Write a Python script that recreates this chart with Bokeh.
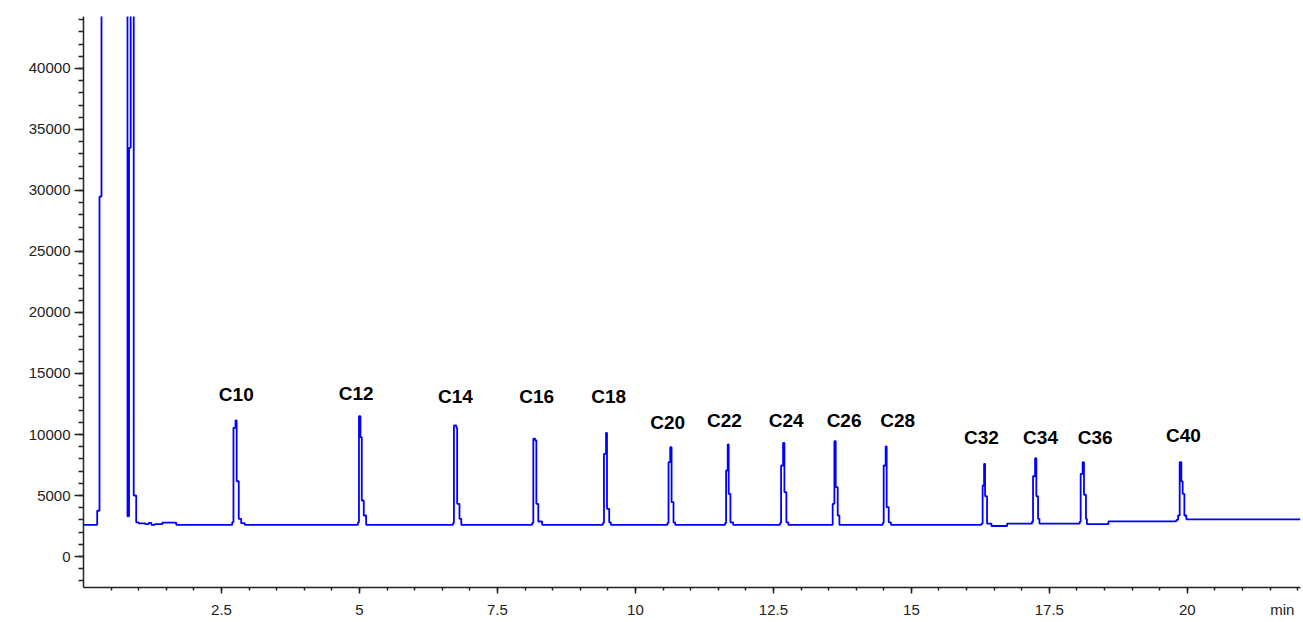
from bokeh.plotting import figure
from bokeh.models import FixedTicker, LinearAxis
from bokeh.core.properties import value
from bokeh.embed import file_html
from bokeh.resources import INLINE

# ---------------- data ----------------
# solvent front (off-scale values shown as 60000)
solvent_t = [0.0, 0.248, 0.29, 0.326, 0.797, 0.825, 0.855, 0.91, 0.955,
             1.00, 1.12, 1.18, 1.23, 1.29, 1.43, 1.68]
solvent_v = [2600, 3750, 29500, 60000, 3300, 33500, 60000, 5000, 2800,
             2720, 2650, 2750, 2600, 2650, 2780, 2600]

# baseline level changes late in the run
baseline_t = [16.735, 18.57, 22.05]
baseline_v = [2700, 2880, 3050]

peak_names = ["C10", "C12", "C14", "C16", "C18", "C20", "C22", "C24",
              "C26", "C28", "C32", "C34", "C36", "C40"]
peak_t = [
    [2.694, 2.717, 2.754, 2.775, 2.813, 2.857, 2.922],
    [4.973, 4.991, 5.018, 5.042, 5.078, 5.121],
    [6.695, 6.712, 6.755, 6.770, 6.812, 6.845],
    [8.13, 8.15, 8.185, 8.205, 8.24, 8.31],
    [9.41, 9.43, 9.467, 9.485, 9.525, 9.555],
    [10.58, 10.60, 10.63, 10.655, 10.69, 10.72],
    [11.625, 11.643, 11.672, 11.690, 11.721, 11.77],
    [12.62, 12.639, 12.675, 12.699, 12.735, 12.77],
    [13.574, 13.605, 13.629, 13.665, 13.696],
    [14.48, 14.498, 14.534, 14.552, 14.589, 14.63],
    [16.27, 16.291, 16.317, 16.335, 16.371, 16.45],
    [17.185, 17.204, 17.241, 17.264, 17.295, 17.32],
    [18.05, 18.067, 18.103, 18.127, 18.163, 18.18],
    [19.80, 19.832, 19.861, 19.891, 19.915, 19.946, 19.982],
]
peak_v = [
    [2800, 10550, 11150, 6170, 3090, 2730, 2600],
    [2800, 11500, 9780, 4590, 3360, 2600],
    [2750, 10740, 10550, 4320, 3090, 2600],
    [2750, 9650, 9510, 4320, 2870, 2600],
    [2750, 8420, 10140, 3910, 2800, 2600],
    [2750, 7730, 8960, 4450, 2800, 2600],
    [2750, 7050, 9180, 5140, 2800, 2600],
    [2750, 7460, 9320, 5270, 2800, 2600],
    [4320, 9450, 5680, 3360, 2600],
    [2750, 7460, 9020, 4040, 2800, 2600],
    [2700, 5820, 7600, 4940, 2700, 2500],
    [2850, 6580, 8060, 4940, 3090, 2700],
    [2850, 6780, 7730, 5060, 3090, 2650],
    [3000, 3360, 7730, 6150, 5140, 3360, 3050],
]

label_x = [2.768, 4.94, 6.74, 8.21, 9.516, 10.585, 11.612, 12.73,
           13.78, 14.75, 16.27, 17.34, 18.33, 19.93]
label_y = [13300, 13360, 13090, 13090, 13150, 10970, 11150, 11150,
           11150, 11150, 9730, 9730, 9730, 9890]

x_tick_values = [2.5, 5, 7.5, 10, 12.5, 15, 17.5, 20]
x_tick_labels = ["2.5", "5", "7.5", "10", "12.5", "15", "17.5", "20"]
x_unit_pos = 21.72
x_unit_label = "min"
y_tick_values = [0, 5000, 10000, 15000, 20000, 25000, 30000, 35000, 40000]

# ---------------- build trace ----------------
pts = list(zip(solvent_t, solvent_v)) + list(zip(baseline_t, baseline_v))
for pt, pv in zip(peak_t, peak_v):
    pts += list(zip(pt, pv))
pts.sort()
trace_t = [a for a, b in pts]
trace_v = [b for a, b in pts]

# ---------------- figure ----------------
p = figure(frame_width=1217, frame_height=571,
           x_range=(0, 22.05), y_range=(-2540, 44260),
           output_backend="svg", toolbar_location=None,
           min_border_left=83, min_border_right=3,
           min_border_top=16, min_border_bottom=33)
p.outline_line_color = None
p.xgrid.visible = False
p.ygrid.visible = False
p.background_fill_color = "white"
p.border_fill_color = "white"

p.step(trace_t, trace_v, mode="after", line_color="#0000ff", line_width=1.8)

p.text(x=label_x, y=label_y, text=peak_names,
       text_font=value("Liberation Sans"), text_font_style="bold",
       text_font_size="19px", text_color="black",
       text_align="center", text_baseline="middle")

AX = "#222222"

# main x axis: line, tick marks and tick labels
xa = p.xaxis[0]
xa.ticker = FixedTicker(ticks=x_tick_values,
                        minor_ticks=[i * 0.5 for i in range(1, 45)])
xa.major_label_overrides = {v: s for v, s in zip(x_tick_values, x_tick_labels)}
xa.axis_line_color = AX
xa.axis_line_width = 1.5
xa.major_tick_line_color = AX
xa.minor_tick_line_color = AX
xa.major_tick_line_width = 1.5
xa.minor_tick_line_width = 1.5
xa.major_tick_in = 0
xa.major_tick_out = 6
xa.minor_tick_in = 0
xa.minor_tick_out = 3
xa.major_label_standoff = 11
xa.major_label_text_font = "Liberation Sans"
xa.major_label_text_font_size = "15px"
xa.major_label_text_color = AX

# unit label "min" on the axis row, without a tick mark
xa2 = LinearAxis(ticker=FixedTicker(ticks=[x_unit_pos], minor_ticks=[]))
xa2.major_label_overrides = {x_unit_pos: x_unit_label}
xa2.axis_line_color = None
xa2.major_tick_line_color = None
xa2.minor_tick_line_color = None
xa2.major_tick_in = 0
xa2.major_tick_out = 0
xa2.minor_tick_in = 0
xa2.minor_tick_out = 0
xa2.major_label_standoff = -17
xa2.major_label_text_font = "Liberation Sans"
xa2.major_label_text_font_size = "15px"
xa2.major_label_text_color = AX
p.add_layout(xa2, "below")

# y axis
ya = p.yaxis[0]
ya.ticker = FixedTicker(ticks=y_tick_values,
                        minor_ticks=list(range(-2000, 44001, 1000)))
ya.axis_line_color = AX
ya.axis_line_width = 1.5
ya.major_tick_line_color = AX
ya.minor_tick_line_color = AX
ya.major_tick_line_width = 1.5
ya.minor_tick_line_width = 1.5
ya.major_tick_in = 0
ya.major_tick_out = 9
ya.minor_tick_in = 0
ya.minor_tick_out = 5
ya.major_label_standoff = 4
ya.major_label_text_font = "Liberation Sans"
ya.major_label_text_font_size = "15px"
ya.major_label_text_color = AX

open("out.html", "w").write(file_html(p, INLINE))
